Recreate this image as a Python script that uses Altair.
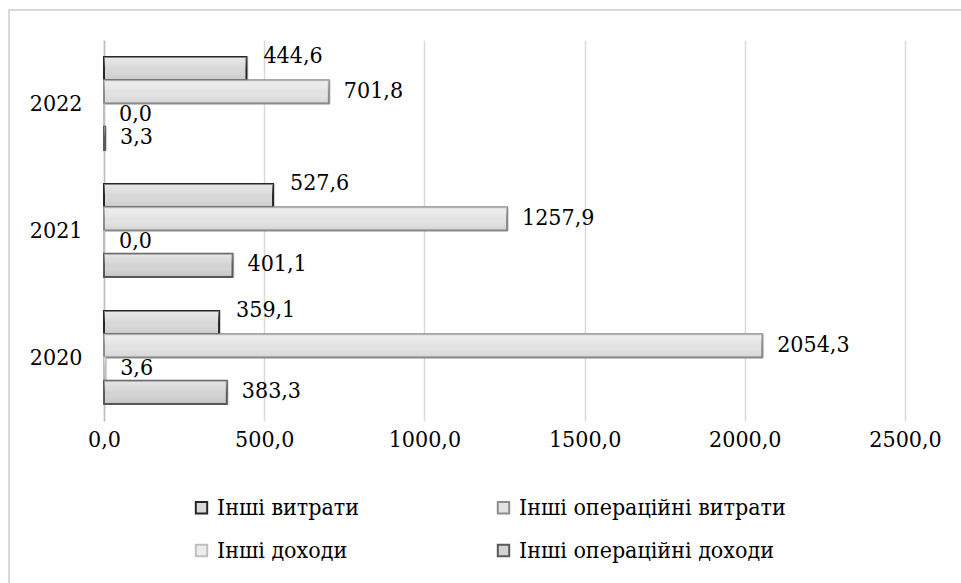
import altair as alt
import pandas as pd

# Values by year and item (thousand UAH)
years = ["2022", "2021", "2020"]
series = [
    "Інші витрати",
    "Інші операційні витрати",
    "Інші доходи",
    "Інші операційні доходи",
]
values = {
    "Інші витрати": [444.6, 527.6, 359.1],
    "Інші операційні витрати": [701.8, 1257.9, 2054.3],
    "Інші доходи": [0.0, 0.0, 3.6],
    "Інші операційні доходи": [3.3, 401.1, 383.3],
}
x_ticks = [0, 500, 1000, 1500, 2000, 2500]

fills = ["#d8d8d8", "#e3e3e3", "#ececec", "#d3d3d3"]
strokes = ["#262626", "#8c8c8c", "#bfbfbf", "#5a5a5a"]

rows = []
for s in series:
    for y, v in zip(years, values[s]):
        rows.append({"year": y, "item": s, "value": v})
df = pd.DataFrame(rows)

FONT = "DejaVu Serif Condensed, DejaVu Serif"
FS = 23
W, H = 801, 381

base = alt.Chart(df).transform_calculate(
    label="replace(format(datum.value, '.1f'), '.', ',')"
)

y_enc = alt.Y(
    "year:N",
    sort=years,
    title=None,
    scale=alt.Scale(paddingInner=0.268, paddingOuter=0.134),
    axis=alt.Axis(
        labelFont=FONT, labelFontSize=FS, labelColor="#000000",
        labelPadding=22, ticks=False, domain=True,
        domainColor="#bfbfbf", domainWidth=1.5, grid=False,
    ),
)
yoff = alt.YOffset("item:N", sort=series, scale=alt.Scale(paddingInner=0, paddingOuter=0))
x_enc = alt.X(
    "value:Q",
    title=None,
    scale=alt.Scale(domain=[0, 2500], nice=False),
    axis=alt.Axis(
        values=x_ticks,
        labelExpr="replace(format(datum.value, '.1f'), '.', ',')",
        labelFont=FONT, labelFontSize=FS, labelColor="#000000",
        labelPadding=7, labelFlush=False, ticks=False, domain=False,
        grid=True, gridColor="#d9d9d9", gridWidth=1.5,
    ),
)

shadow = base.mark_bar(
    fill="#000000", opacity=0.15, xOffset=2, yOffset=3
).encode(x=x_enc, y=y_enc, yOffset=yoff)

bars = base.mark_bar(strokeWidth=2).encode(
    x=x_enc,
    y=y_enc,
    yOffset=yoff,
    fill=alt.Fill(
        "item:N",
        sort=series,
        scale=alt.Scale(domain=series, range=fills),
        legend=alt.Legend(
            title=None, orient="none", legendX=86, legendY=456,
            direction="horizontal", columns=2, columnPadding=132,
            rowPadding=19,
            symbolType="square", symbolSize=130, symbolStrokeWidth=2,
            labelFont=FONT, labelFontSize=FS, labelColor="#000000",
            labelOffset=4, labelLimit=400,
        ),
    ),
    stroke=alt.Stroke(
        "item:N",
        sort=series,
        scale=alt.Scale(domain=series, range=strokes),
        legend=None,
    ),
)

sheen = base.mark_bar(
    fill=alt.LinearGradient(
        gradient="linear", x1=0, x2=0, y1=0, y2=1,
        stops=[
            alt.GradientStop(color="rgba(255,255,255,0.45)", offset=0),
            alt.GradientStop(color="rgba(255,255,255,0.0)", offset=0.5),
            alt.GradientStop(color="rgba(0,0,0,0.08)", offset=1),
        ],
    )
).encode(x=x_enc, y=y_enc, yOffset=yoff)

text_top = base.transform_filter(alt.datum.item == series[0]).mark_text(
    align="left", baseline="middle", dx=17, dy=-13,
    font=FONT, fontSize=FS, color="#000000",
).encode(x=x_enc, y=y_enc, yOffset=yoff, text="label:N")

text_rest = base.transform_filter(alt.datum.item != series[0]).mark_text(
    align="left", baseline="middle", dx=15, dy=-1,
    font=FONT, fontSize=FS, color="#000000",
).encode(x=x_enc, y=y_enc, yOffset=yoff, text="label:N")

frame = alt.Chart(pd.DataFrame({"k": [0]})).mark_rect(
    fill="transparent", stroke="#d9d9d9", strokeWidth=2
).encode(
    x=alt.value(-95), x2=alt.value(W + 120),
    y=alt.value(-30), y2=alt.value(H + 200),
)

chart = alt.layer(frame, shadow, bars, sheen, text_top, text_rest).properties(
    width=W,
    height=H,
    autosize=alt.AutoSizeParams(type="none"),
    padding={"left": 104, "top": 40, "right": 56, "bottom": 162},
    background="#ffffff",
).configure_view(stroke=None)

chart.save("out.html", embed_options={"renderer": "svg", "actions": False})
